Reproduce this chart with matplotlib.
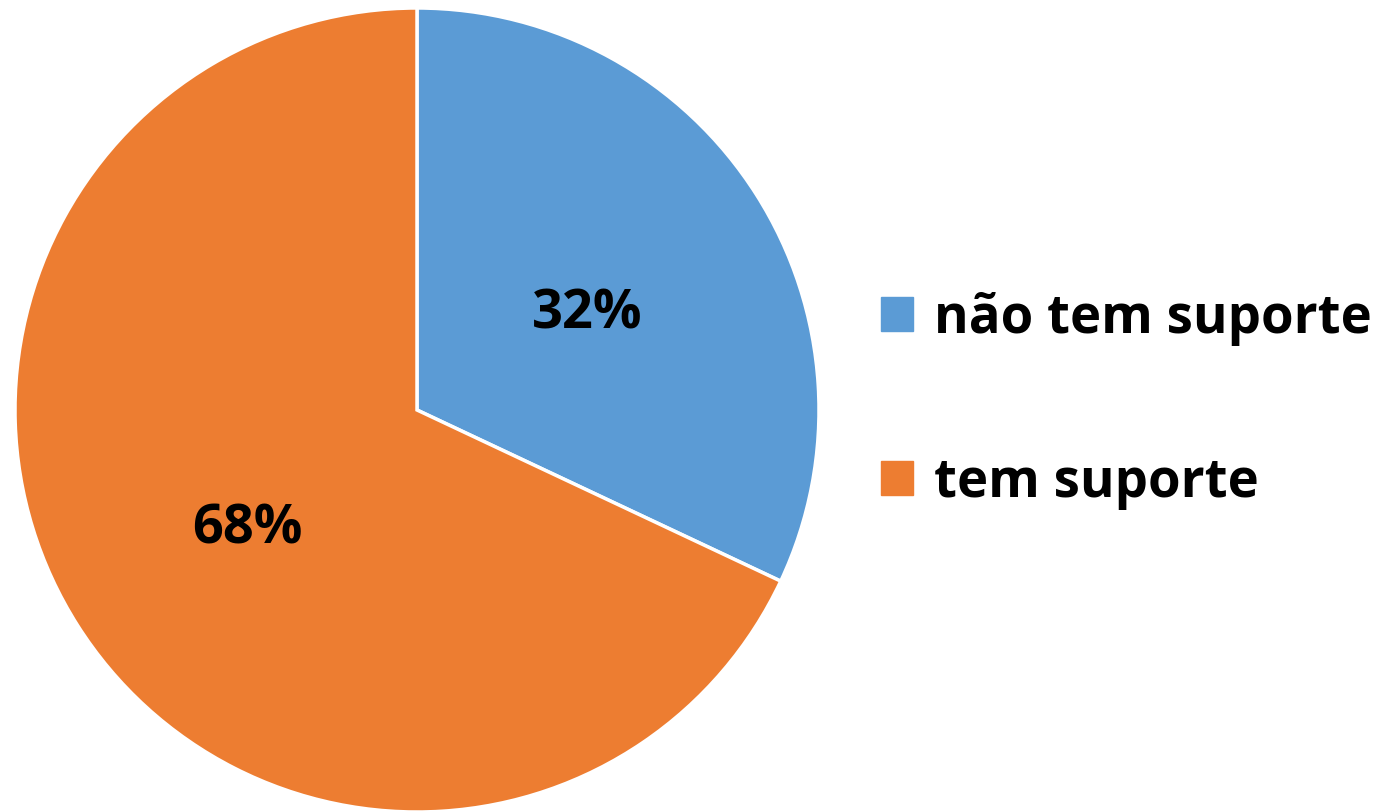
import matplotlib.pyplot as plt
import matplotlib.patches as mpatches

rotulos = ["não tem suporte", "tem suporte"]
valores = [32, 68]
cores = ["#5B9BD5", "#ED7D31"]

plt.rcParams['font.family'] = ['Open Sans', 'DejaVu Sans']

fig = plt.figure(figsize=(13.82, 8.11), dpi=100)

# Eixo quadrado para a pizza (centro ~ (417, 410) px, raio ~ 402 px)
cx, cy, r = 417, 410, 402
W, H = 1382, 811
ax = fig.add_axes([(cx - r) / W, (H - cy - r) / H, 2 * r / W, 2 * r / H])

fatias, textos, autotextos = ax.pie(
    valores, colors=cores, startangle=90, counterclock=False,
    autopct='%1.0f%%', pctdistance=0.5,
    wedgeprops=dict(edgecolor='white', linewidth=2.5),
    textprops=dict(fontsize=39, fontweight='bold', color='black'))
# pequeno ajuste vertical dos rótulos
for t in autotextos:
    x, y = t.get_position()
    t.set_position((x, y - 0.03))
ax.set_xlim(-1, 1)
ax.set_ylim(-1, 1)
ax.axis('off')

# Legenda à direita
handles = [mpatches.Patch(color=c, label=l) for c, l in zip(cores, rotulos)]
fig.legend(handles=handles, loc='center left', bbox_to_anchor=(0.603, 0.506),
           frameon=False, prop=dict(size=38, weight='bold'),
           handlelength=0.6, handleheight=0.6, handletextpad=0.4,
           labelspacing=2.08)

fig.savefig('out.png', dpi=100)
